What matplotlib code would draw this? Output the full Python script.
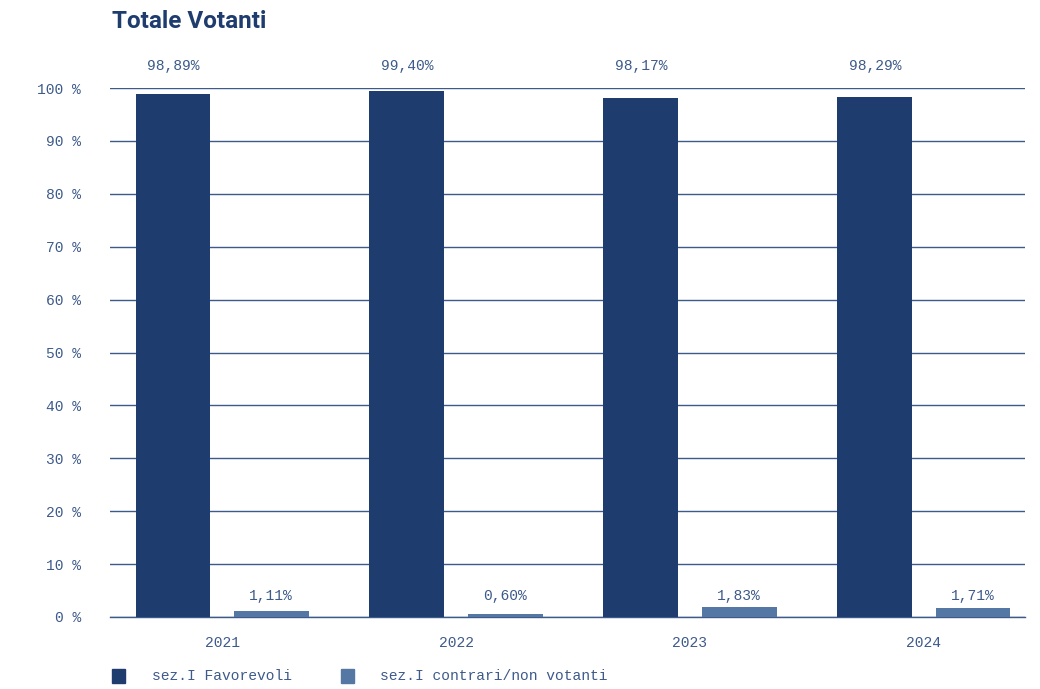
import matplotlib
matplotlib.use("Agg")
import matplotlib.pyplot as plt
import numpy as np
from matplotlib.patches import Rectangle

years = ["2021", "2022", "2023", "2024"]
favorevoli = [98.89, 99.40, 98.17, 98.29]
contrari = [1.11, 0.60, 1.83, 1.71]
fav_labels = ["98,89%", "99,40%", "98,17%", "98,29%"]
con_labels = ["1,11%", "0,60%", "1,83%", "1,71%"]
series_names = ["sez.I Favorevoli", "sez.I contrari/non votanti"]
yticks = list(range(0, 101, 10))

c_dark = "#1f3c6e"
c_light = "#5577a3"
c_text = "#3d5a8a"
mono = "Liberation Mono"

fig = plt.figure(figsize=(10.4, 6.89), dpi=100)
W, H = 1040, 689
ax = fig.add_axes([110 / W, 1 - 617 / H, (1025 - 110) / W, (617 - 88) / H])

x = np.arange(len(years))
bw = 0.32
off = 0.21
ax.bar(x - off, favorevoli, width=bw, color=c_dark, zorder=3)
ax.bar(x + off, contrari, width=bw, color=c_light, zorder=3)

ax.set_ylim(0, 100)
ax.set_xlim(-0.479, 3.432)
ax.set_yticks(yticks)
ax.set_yticklabels([f"{t} %" for t in yticks], fontfamily=mono, fontsize=10.5, color=c_text)
ax.set_xticks(x)
ax.set_xticklabels(years, fontfamily=mono, fontsize=10.5, color=c_text)
ax.tick_params(axis="y", length=0, pad=21)
ax.tick_params(axis="x", length=0, pad=14)
ax.grid(axis="y", color="#3d5a8a", linewidth=1, zorder=0)
for s in ["top", "right", "left"]:
    ax.spines[s].set_visible(False)
ax.spines["bottom"].set_color("#3d5a8a")
ax.spines["bottom"].set_linewidth(1)

for i in range(len(years)):
    ax.text(x[i] - off, 104.2, fav_labels[i], ha="center", va="center",
            fontfamily=mono, fontsize=10.5, color=c_text, clip_on=False)
    ax.text(x[i] + off, 4.0, con_labels[i], ha="center", va="center",
            fontfamily=mono, fontsize=10.5, color=c_text)

fig.text(112 / W, 1 - 22 / H, "Totale Votanti", ha="left", va="center",
         fontfamily=["Liberation Sans Narrow", "Roboto"], fontweight="bold",
         fontsize=17.5, color=c_dark)

# legend
handles = [Rectangle((0, 0), 1, 1, color=c_dark), Rectangle((0, 0), 1, 1, color=c_light)]
leg = fig.legend(handles, series_names, loc="center left",
                 bbox_to_anchor=(99 / W, 1 - 676 / H), ncol=2, frameon=False,
                 prop={"family": mono, "size": 10.5}, handlelength=0.9, handleheight=1.1,
                 handletextpad=1.8, columnspacing=3.4, labelcolor=c_text)

fig.savefig("out.png", dpi=100, facecolor="white")
